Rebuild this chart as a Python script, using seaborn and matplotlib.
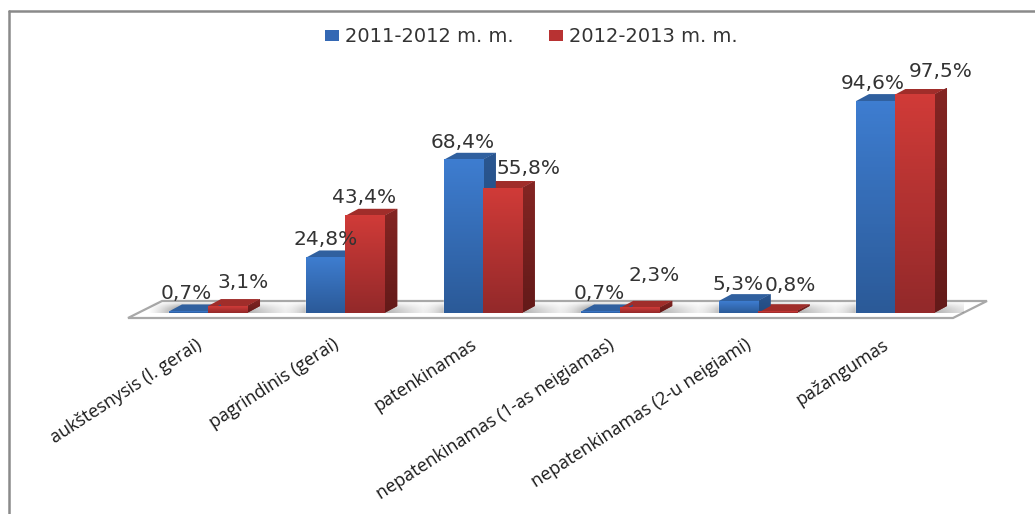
import numpy as np
import pandas as pd
import matplotlib
matplotlib.use("Agg")
import matplotlib.pyplot as plt
from matplotlib.lines import Line2D
from matplotlib.patches import Polygon
from matplotlib.transforms import IdentityTransform, ScaledTranslation
import seaborn as sns

categories = ["aukštesnysis (l. gerai)", "pagrindinis (gerai)", "patenkinamas",
              "nepatenkinamas (1-as neigiamas)", "nepatenkinamas (2-u neigiami)", "pažangumas"]
series_names = ["2011-2012 m. m.", "2012-2013 m. m."]
values_2011 = [0.7, 24.8, 68.4, 0.7, 5.3, 94.6]
values_2012 = [3.1, 43.4, 55.8, 2.3, 0.8, 97.5]
labels_2011 = ["0,7%", "24,8%", "68,4%", "0,7%", "5,3%", "94,6%"]
labels_2012 = ["3,1%", "43,4%", "55,8%", "2,3%", "0,8%", "97,5%"]

# label placement, px from the front-top centre of each bar (dx, dy upward)
offsets_2011 = [(-2, 18), (0, 18), (-1, 17), (-1, 18), (0, 17), (-3, 18)]
offsets_2012 = [(16, 24), (-1, 18), (26, 20), (14, 32), (13, 26), (26, 23)]

W, H = 1035, 514
DEPTH = (13, 7)
STYLE = {
    series_names[0]: dict(top="#3E7DD0", bottom="#2B5A98", side_top="#2A5690", side_bottom="#224A80",
                          cap="#30609F", legend="#3468B4"),
    series_names[1]: dict(top="#D03B38", bottom="#93292A", side_top="#842523", side_bottom="#631A19",
                          cap="#A02D2A", legend="#B83232"),
}

sns.set_theme(style="white")
plt.rcParams["font.family"] = ["DejaVu Sans"]

df = pd.DataFrame({
    "category": categories * 2,
    "series": [series_names[0]] * len(categories) + [series_names[1]] * len(categories),
    "value": values_2011 + values_2012,
})

fig = plt.figure(figsize=(W / 100, H / 100), dpi=100)
L, R, B, T = 139.3, 963.7, 313.0, 89.0
ax = fig.add_axes([L / W, 1 - B / H, (R - L) / W, (B - T) / H])
ax.patch.set_alpha(0)

sns.barplot(data=df, x="category", y="value", hue="series", hue_order=series_names,
            palette=[STYLE[s]["top"] for s in series_names], width=0.568, gap=0,
            dodge=True, saturation=1, ax=ax, legend=False, zorder=3)
ax.set_xlim(-0.5, len(categories) - 0.5)
ax.set_ylim(0, 100)
for s in ax.spines.values():
    s.set_visible(False)
ax.set_xlabel("")
ax.set_ylabel("")
ax.set_yticks([])
ax.set_xticks([])


def px(x, y):
    """pixel (from top-left) to display coordinates"""
    return (x, H - y)


# floor
floor = Polygon([px(128, 318), px(953, 318), px(987, 301), px(162, 301)], closed=True,
                transform=IdentityTransform(), fc="white", ec="#a8a8a8", lw=1.6, zorder=0)
fig.add_artist(floor)
ax.set_zorder(2)


def vgrad(c_top, c_bottom):
    a = np.array(matplotlib.colors.to_rgb(c_top))
    b = np.array(matplotlib.colors.to_rgb(c_bottom))
    t = np.linspace(0, 1, 64)[:, None]
    return (a * (1 - t) + b * t)[:, None, :]


# soft shadow on the floor around each bar pair
unit_x = (R - L) / len(categories)
unit_y = (B - T) / 100
for blue, red in zip(ax.containers[0].patches, ax.containers[1].patches):
    left = blue.get_x() - 22 / unit_x
    right = red.get_x() + red.get_width() + 55 / unit_x
    n = 160
    xs = np.linspace(0, 1, n)
    fade_l = np.clip(xs / 0.2, 0, 1)
    fade_r = np.clip((1 - xs) / 0.45, 0, 1)
    horiz = (fade_l * fade_r) ** 1.3
    vert = np.sin(np.linspace(0.05, 1, 24) * np.pi / 2)[:, None]  # top -> bottom
    rgba = np.zeros((24, n, 4))
    rgba[..., :3] = 0.35
    rgba[..., 3] = 0.65 * horiz[None, :] * vert
    ax.imshow(rgba, extent=(left, right, 0, 11 / unit_y), aspect="auto", zorder=1)

trans = ax.transData
for name, container, labs, offs in zip(series_names, ax.containers,
                                       (labels_2011, labels_2012),
                                       (offsets_2011, offsets_2012)):
    st = STYLE[name]
    for patch, lab, off in zip(container.patches, labs, offs):
        x0, w, h = patch.get_x(), patch.get_width(), patch.get_height()
        (a, b), (c, d) = trans.transform([(x0, 0), (x0 + w, h)])
        dx, dy = DEPTH
        side = Polygon([(c, b), (c + dx, b + dy), (c + dx, d + dy), (c, d)], closed=True,
                       transform=IdentityTransform(), fc=st["side_top"], ec="none", zorder=4)
        cap = Polygon([(a, d), (c, d), (c + dx, d + dy), (a + dx, d + dy)], closed=True,
                      transform=IdentityTransform(), fc=st["cap"], ec="none", zorder=4)
        ax.add_patch(side)
        ax.add_patch(cap)
        ax.imshow(vgrad(st["side_top"], st["side_bottom"]),
                  extent=(x0 + w, x0 + w + dx / unit_x, 0, h + dy / unit_y),
                  aspect="auto", zorder=4.1, clip_path=side, clip_on=True)
        ax.imshow(vgrad(st["top"], st["bottom"]), extent=(x0, x0 + w, 0, h), aspect="auto", zorder=5)
        ax.text(x0 + w / 2, h, lab,
                transform=trans + ScaledTranslation(off[0] / 100, off[1] / 100, fig.dpi_scale_trans),
                ha="center", va="center", fontsize=14.5, color="#333333", zorder=8, clip_on=False)
ax.set_xlim(-0.5, len(categories) - 0.5)
ax.set_ylim(0, 100)

# category labels
for i, c in enumerate(categories):
    ax.annotate(c, xy=(i, 0), xycoords="data", xytext=(-8, -30), textcoords="offset pixels",
                rotation=33, rotation_mode="anchor", ha="right", va="center",
                fontsize=13, family="Open Sans", color="#1a1a1a", annotation_clip=False)

# legend
handles = [plt.Rectangle((0, 0), 1, 1, fc=STYLE[s]["legend"], ec="none") for s in series_names]
fig.legend(handles, series_names, loc="center", bbox_to_anchor=(531 / W, 1 - 37 / H), ncol=2, frameon=False,
           fontsize=14, handlelength=0.72, handleheight=0.46, handletextpad=0.31, columnspacing=1.8,
           labelcolor="#333333", borderpad=0)

# frame of the source image
for xs, ys in (([8.5, W], [11, 11]), ([8.5, 8.5], [11, H])):
    fig.add_artist(Line2D([x / W for x in xs], [1 - y / H for y in ys], color="#8a8a8a", lw=1.8))

fig.savefig("out.png", dpi=100)
